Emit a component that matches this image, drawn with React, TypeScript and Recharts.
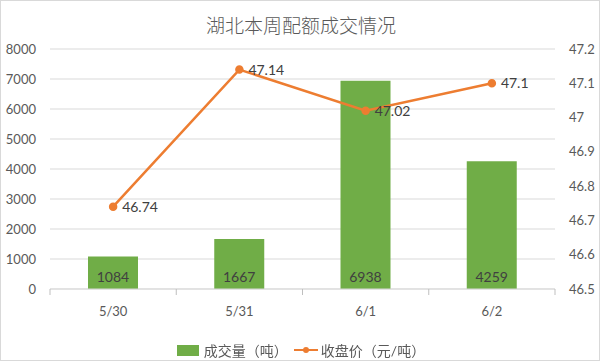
import React from "react";
import {
    ComposedChart,
    Bar,
    Line,
    XAxis,
    YAxis,
    CartesianGrid,
    LabelList,
} from "recharts";

const categories = ["5/30", "5/31", "6/1", "6/2"];
const volumes = [1084, 1667, 6938, 4259];
const prices = [46.74, 47.14, 47.02, 47.1];
const leftTicks = [0, 1000, 2000, 3000, 4000, 5000, 6000, 7000, 8000];
const rightTicks = [46.5, 46.6, 46.7, 46.8, 46.9, 47, 47.1, 47.2];

const BAR_COLOR = "#70AD47";
const LINE_COLOR = "#ED7D31";
const AXIS_TEXT = "#595959";
const GRID = "#D9D9D9";
const FONT = 'Lato, "Noto Sans CJK SC", sans-serif';

const chartData = categories.map((date, i) => ({
    date,
    volume: volumes[i],
    price: prices[i],
}));

// Excel puts tick marks between categories, not under them
const CategoryTick = ({ x, y, payload, index, visibleTicksCount }: any) => {
    const half = payload?.offset ?? 63;
    return (
        <g>
            <line x1={x - half} y1={y - 8} x2={x - half} y2={y - 2} stroke="#BFBFBF" />
            {index === visibleTicksCount - 1 && (
                <line x1={x + half} y1={y - 8} x2={x + half} y2={y - 2} stroke="#BFBFBF" />
            )}
            <text x={x} y={y + 19} textAnchor="middle" fill={AXIS_TEXT} fontSize={13} fontFamily={FONT}>
                {payload.value}
            </text>
        </g>
    );
};

const ChartLegend = () => (
    <div
        style={{
            position: "absolute",
            top: 339,
            left: 0,
            width: 600,
            display: "flex",
            justifyContent: "center",
            alignItems: "center",
            fontFamily: FONT,
            fontSize: 14,
            color: AXIS_TEXT,
        }}
    >
        <span style={{ display: "inline-block", width: 22, height: 11, background: BAR_COLOR, marginRight: 5 }} />
        <span style={{ marginRight: 6 }}>成交量（吨）</span>
        <svg width={24} height={10} style={{ marginRight: 3 }}>
            <line x1={0} y1={5} x2={24} y2={5} stroke={LINE_COLOR} strokeWidth={2} />
            <circle cx={12} cy={5} r={3} fill={LINE_COLOR} />
        </svg>
        <span>收盘价（元/吨）</span>
    </div>
);

export default function App() {
    return (
        <div
            style={{
                position: "fixed",
                left: 0,
                top: 0,
                width: 598,
                height: 359,
                border: "1px solid #D9D9D9",
                background: "#fff",
            }}
        >
            <div
                style={{
                    position: "absolute",
                    top: 10,
                    left: 0,
                    width: 600,
                    textAlign: "center",
                    fontFamily: '"Noto Sans CJK SC", sans-serif',
                    fontSize: 19,
                    color: AXIS_TEXT,
                    fontWeight: 300,
                }}
            >
                湖北本周配额成交情况
            </div>
            <div style={{ position: "absolute", left: -1, top: -1 }}>
                <ComposedChart
                    width={600}
                    height={361}
                    data={chartData}
                    margin={{ top: 49, right: 0, left: 0, bottom: 42 }}
                >
                    <CartesianGrid vertical={false} stroke={GRID} yAxisId="left" />
                    <XAxis
                        dataKey="date"
                        height={30}
                        axisLine={{ stroke: GRID }}
                        tickLine={false}
                        tick={<CategoryTick />}
                    />
                    <YAxis
                        yAxisId="left"
                        width={50}
                        domain={[0, 8000]}
                        ticks={leftTicks}
                        axisLine={false}
                        tickLine={false}
                        tick={{ fill: AXIS_TEXT, fontSize: 13, fontFamily: FONT }}
                        tickMargin={8}
                    />
                    <YAxis
                        yAxisId="right"
                        orientation="right"
                        width={45}
                        domain={[46.5, 47.2]}
                        ticks={rightTicks}
                        axisLine={false}
                        tickLine={false}
                        tick={{ fill: AXIS_TEXT, fontSize: 13, fontFamily: FONT }}
                        tickMargin={8}
                    />
                    <Bar yAxisId="left" dataKey="volume" fill={BAR_COLOR} barSize={50} isAnimationActive={false}>
                        <LabelList
                            dataKey="volume"
                            position="insideBottom"
                            offset={7}
                            fill="#404040"
                            fontSize={14}
                            fontFamily={FONT}
                        />
                    </Bar>
                    <Line
                        yAxisId="right"
                        dataKey="price"
                        stroke={LINE_COLOR}
                        strokeWidth={2.5}
                        dot={{ r: 3, fill: LINE_COLOR, stroke: LINE_COLOR }}
                        isAnimationActive={false}
                    >
                        <LabelList
                            dataKey="price"
                            position="right"
                            offset={9}
                            fill="#404040"
                            fontSize={14}
                            fontFamily={FONT}
                        />
                    </Line>
                </ComposedChart>
            </div>
            <ChartLegend />
        </div>
    );
}
